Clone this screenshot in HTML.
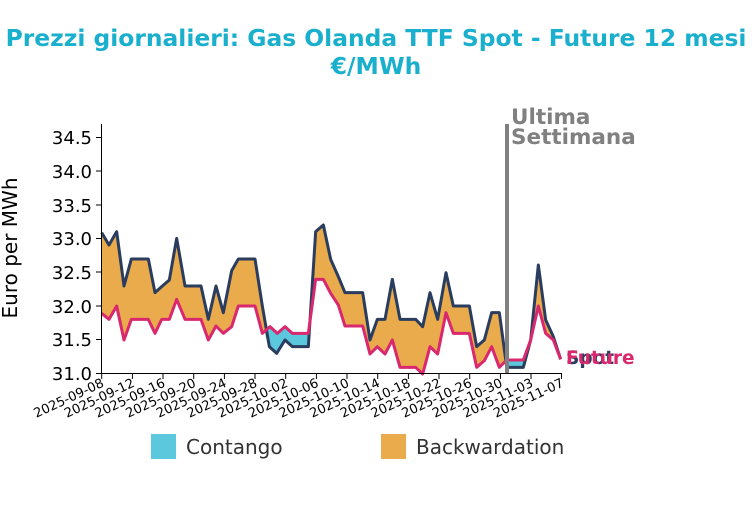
<!DOCTYPE html>
<html><head><meta charset="utf-8"><style>
body{margin:0;background:#fff;}
svg{display:block;font-family:"DejaVu Sans","Liberation Sans",sans-serif;}
</style></head><body>
<svg width="752" height="505" viewBox="0 0 752 505">
<text x="376" y="46" text-anchor="middle" font-size="23.4" font-weight="bold" fill="#1aafcd">Prezzi giornalieri: Gas Olanda TTF Spot - Future 12 mesi</text>
<text x="376" y="74" text-anchor="middle" font-size="23.4" font-weight="bold" fill="#1aafcd">€/MWh</text>
<g transform="translate(90,110) scale(0.3333333)">
<polygon fill="#eaab4c" points="35,368 57,405 80,365 102,528 124,447 175,447 195,548 215,530 238,510 260,385 285,528 333,528 355,628 378,528 400,608 425,482 445,447 495,447 517,588 538,710 560,730 585,690 607,710 655,710 677,365 700,345 722,448 745,500 765,548 818,548 840,690 862,628 885,628 907,508 930,628 977,628 998,650 1020,548 1043,628 1068,488 1090,588 1138,588 1160,710 1183,690 1205,608 1228,608 1250,770 1255,772 1300,772 1322,690 1345,465 1367,630 1390,680 1412,748 1390,690 1367,670 1345,588 1322,690 1300,750 1250,750 1228,772 1205,710 1183,752 1160,772 1138,670 1090,670 1068,608 1043,732 1020,710 998,792 977,772 930,772 907,690 885,732 862,710 840,732 818,648 765,648 745,585 722,550 700,508 677,508 655,670 607,670 585,650 562,670 540,650 517,670 495,588 445,588 425,650 400,670 378,648 355,690 333,628 285,628 260,568 238,628 215,628 195,670 175,628 124,628 102,690 80,588 57,628 35,610"/>
<polygon fill="#5bc8de" points="525,660 540,650 562,670 585,650 607,670 655,670 657,710 607,710 585,690 560,730 538,710 527,680"/>
<polygon fill="#5bc8de" points="1247,752 1300,750 1306,742 1300,772 1255,772 1249,768"/>
<polyline fill="none" stroke="#2b3d5e" stroke-width="9" stroke-linejoin="round" points="35,368 57,405 80,365 102,528 124,447 175,447 195,548 215,530 238,510 260,385 285,528 333,528 355,628 378,528 400,608 425,482 445,447 495,447 517,588 538,710 560,730 585,690 607,710 655,710 677,365 700,345 722,448 745,500 765,548 818,548 840,690 862,628 885,628 907,508 930,628 977,628 998,650 1020,548 1043,628 1068,488 1090,588 1138,588 1160,710 1183,690 1205,608 1228,608 1250,770 1255,772 1300,772 1322,690 1345,465 1367,630 1390,680 1412,748"/>
<polyline fill="none" stroke="#d9286e" stroke-width="9" stroke-linejoin="round" points="35,610 57,628 80,588 102,690 124,628 175,628 195,670 215,628 238,628 260,568 285,628 333,628 355,690 378,648 400,670 425,650 445,588 495,588 517,670 540,650 562,670 585,650 607,670 655,670 677,508 700,508 722,550 745,585 765,648 818,648 840,732 862,710 885,732 907,690 930,772 977,772 998,792 1020,710 1043,732 1068,608 1090,670 1138,670 1160,772 1183,752 1205,710 1228,772 1250,750 1300,750 1322,690 1345,588 1367,670 1390,690 1412,748"/>
</g>
<line x1="507" y1="124" x2="507" y2="374" stroke="#808080" stroke-width="4"/>
<text x="511" y="124" font-size="21.5" font-weight="bold" fill="#808080">Ultima</text>
<text x="511" y="144" font-size="21.5" font-weight="bold" fill="#808080">Settimana</text>
<text x="566" y="364" font-size="18.5" font-weight="bold" fill="#2b3d5e">Spot</text>
<text x="566" y="364" font-size="18.5" font-weight="bold" fill="#d9286e">Future</text>
<g stroke="#000" stroke-width="1">
<line x1="101.5" y1="124" x2="101.5" y2="374"/>
<line x1="101" y1="373.5" x2="562" y2="373.5"/>
</g>
<g font-size="18" fill="#000" text-anchor="end">
<text x="92" y="380">31.0</text><text x="92" y="346">31.5</text><text x="92" y="313">32.0</text><text x="92" y="279">32.5</text><text x="92" y="245">33.0</text><text x="92" y="212">33.5</text><text x="92" y="178">34.0</text><text x="92" y="144">34.5</text>
</g>
<g stroke="#000">
<line x1="96" x2="101" y1="373.5" y2="373.5"/><line x1="96" x2="101" y1="339.5" y2="339.5"/><line x1="96" x2="101" y1="306" y2="306"/><line x1="96" x2="101" y1="272" y2="272"/><line x1="96" x2="101" y1="238.5" y2="238.5"/><line x1="96" x2="101" y1="205" y2="205"/><line x1="96" x2="101" y1="171" y2="171"/><line x1="96" x2="101" y1="137.5" y2="137.5"/>
</g>
<text transform="translate(17,248) rotate(-90)" text-anchor="middle" font-size="20" fill="#000">Euro per MWh</text>
<g font-size="13" fill="#000" text-anchor="end">
<g transform="translate(101.7,374)"><line y2="5" stroke="#000"/><text transform="translate(3,12) rotate(-25)">2025-09-08</text></g>
<g transform="translate(132.4,374)"><line y2="5" stroke="#000"/><text transform="translate(3,12) rotate(-25)">2025-09-12</text></g>
<g transform="translate(163,374)"><line y2="5" stroke="#000"/><text transform="translate(3,12) rotate(-25)">2025-09-16</text></g>
<g transform="translate(193.7,374)"><line y2="5" stroke="#000"/><text transform="translate(3,12) rotate(-25)">2025-09-20</text></g>
<g transform="translate(224.4,374)"><line y2="5" stroke="#000"/><text transform="translate(3,12) rotate(-25)">2025-09-24</text></g>
<g transform="translate(255,374)"><line y2="5" stroke="#000"/><text transform="translate(3,12) rotate(-25)">2025-09-28</text></g>
<g transform="translate(285.7,374)"><line y2="5" stroke="#000"/><text transform="translate(3,12) rotate(-25)">2025-10-02</text></g>
<g transform="translate(316.4,374)"><line y2="5" stroke="#000"/><text transform="translate(3,12) rotate(-25)">2025-10-06</text></g>
<g transform="translate(347,374)"><line y2="5" stroke="#000"/><text transform="translate(3,12) rotate(-25)">2025-10-10</text></g>
<g transform="translate(377.7,374)"><line y2="5" stroke="#000"/><text transform="translate(3,12) rotate(-25)">2025-10-14</text></g>
<g transform="translate(408.4,374)"><line y2="5" stroke="#000"/><text transform="translate(3,12) rotate(-25)">2025-10-18</text></g>
<g transform="translate(439,374)"><line y2="5" stroke="#000"/><text transform="translate(3,12) rotate(-25)">2025-10-22</text></g>
<g transform="translate(469.7,374)"><line y2="5" stroke="#000"/><text transform="translate(3,12) rotate(-25)">2025-10-26</text></g>
<g transform="translate(500.4,374)"><line y2="5" stroke="#000"/><text transform="translate(3,12) rotate(-25)">2025-10-30</text></g>
<g transform="translate(531,374)"><line y2="5" stroke="#000"/><text transform="translate(3,12) rotate(-25)">2025-11-03</text></g>
<g transform="translate(561.5,374)"><line y2="5" stroke="#000"/><text transform="translate(3,12) rotate(-25)">2025-11-07</text></g>
</g>
<rect x="151" y="434" width="25" height="25" fill="#5bc8de"/>
<text x="186" y="454" font-size="20" fill="#333">Contango</text>
<rect x="381" y="434" width="25" height="25" fill="#eaab4c"/>
<text x="416" y="454" font-size="20" fill="#333">Backwardation</text>
</svg>
</body></html>
